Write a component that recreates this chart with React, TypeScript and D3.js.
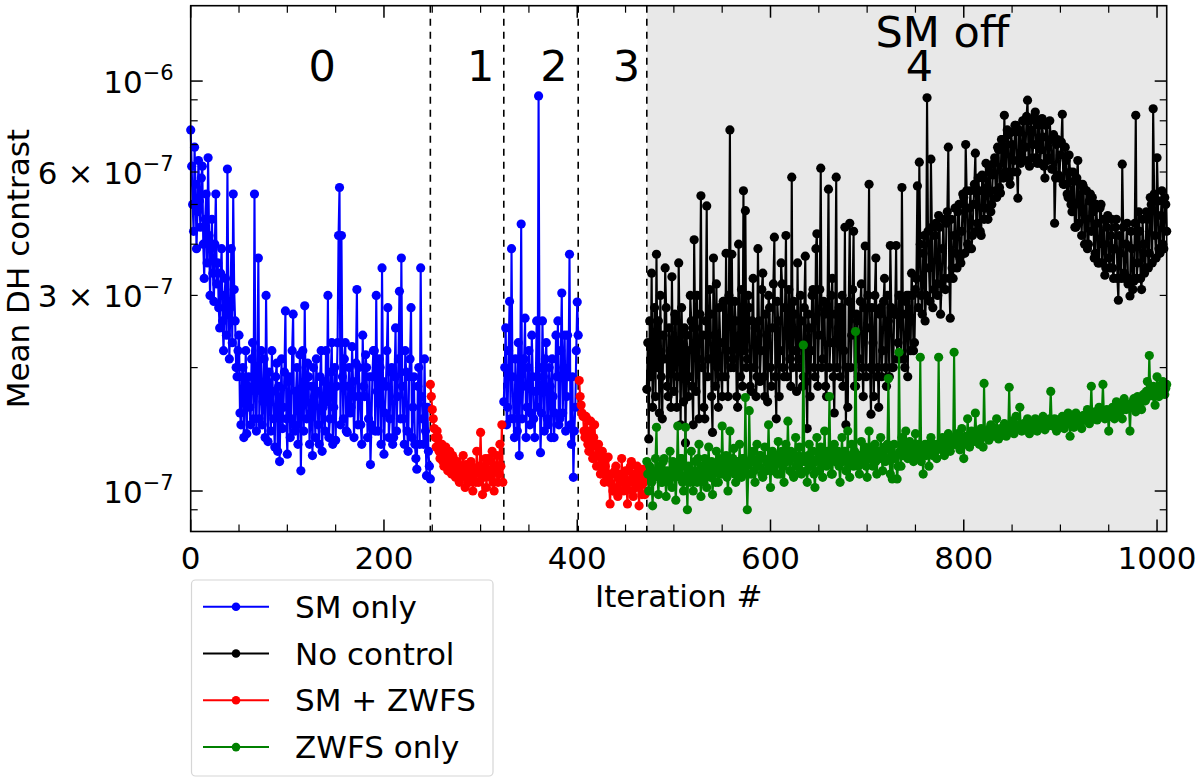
import * as d3 from "d3";

// values are in units of 1e-7, one sample per iteration
const UNIT = 1e-7;

const smOnlyStartA = 0;
const smOnlyA = [
  7.6, 6.2, 5.0, 4.3, 6.9, 5.6, 3.9, 4.8, 6.4, 5.1,
  4.4, 5.8, 6.2, 4.0, 3.3, 4.6, 5.3, 3.6, 6.5, 4.2,
  3.0, 3.9, 4.6, 3.4, 2.9, 4.0, 5.3, 3.2, 3.6, 2.8,
  2.5, 3.4, 3.9, 2.6, 2.2, 3.0, 3.3, 2.4, 6.1, 2.9,
  2.1, 2.8, 3.9, 2.3, 5.3, 3.1, 2.6, 2.0, 1.9, 2.2,
  2.4, 1.55, 1.45, 1.9, 2.0, 1.35, 1.7, 2.2, 1.38, 1.8,
  1.9, 1.6, 1.45, 2.1, 2.3, 1.5, 5.3, 1.75, 1.4, 2.0,
  3.7, 1.5, 1.8, 2.2, 1.45, 1.65, 2.1, 1.35, 3.0, 1.85,
  1.32, 1.95, 1.7, 1.4, 2.2, 1.75, 1.5, 1.28, 1.9, 2.05,
  1.25, 1.8, 1.18, 1.6, 2.1, 1.42, 1.6, 1.95, 2.75, 1.5,
  1.23, 1.85, 1.9, 1.35, 1.5, 2.2, 2.7, 1.45, 1.4, 1.75,
  2.0, 1.3, 1.6, 2.15, 1.12, 1.7, 2.2, 1.4, 2.83, 1.65,
  1.5, 2.05, 1.9, 1.3, 1.55, 1.8, 1.22, 2.0, 1.7, 1.35,
  2.1, 1.75, 1.45, 1.3, 1.9, 2.2, 1.25, 1.6, 1.85, 1.4,
  2.2, 1.65, 3.0, 1.35, 1.5, 1.95, 2.3, 1.3, 1.6, 2.0,
  1.33, 1.8, 2.3, 4.2, 5.5, 1.45, 4.2, 1.9, 1.5, 2.1,
  2.3, 1.4, 1.39, 1.8, 2.0, 1.55, 1.6, 2.25, 1.85, 1.35,
  1.7, 2.05, 3.1, 1.45, 2.0, 1.7, 1.45, 1.3, 2.4, 1.8,
  1.7, 2.15, 2.0, 1.35, 1.5, 1.9, 1.16, 1.45, 1.9, 2.2,
  2.2, 1.4, 3.0, 1.75, 1.4, 2.1, 2.0, 1.3, 3.5, 1.85,
  1.23, 1.55, 1.8, 2.2, 2.8, 1.35, 1.5, 1.95, 2.0, 1.3,
  1.35, 1.9, 2.5, 1.4, 1.7, 2.1, 3.07, 1.5, 3.7, 1.8,
  1.5, 1.3, 2.2, 1.95, 1.4, 1.25, 1.9, 2.1, 2.8, 1.35,
  1.6, 1.9, 1.3, 1.2, 1.13, 1.8, 2.0, 1.3, 3.5, 1.7,
  1.5, 1.3, 2.1, 1.4, 1.09, 1.6, 1.25, 1.15, 1.07,
];

const smZwfsStartB = 248;
const smZwfsB = [
  1.82, 1.7, 1.58, 1.5, 1.42, 1.35, 1.28, 1.4, 1.35, 1.25,
  1.2, 1.3, 1.3, 1.18, 1.15, 1.25, 1.28, 1.15, 1.12, 1.2,
  1.25, 1.15, 1.1, 1.22, 1.2, 1.12, 1.08, 1.15, 1.18, 1.1,
  1.05, 1.12, 1.15, 1.08, 1.22, 1.1, 1.02, 1.16, 1.13, 1.05,
  1.05, 1.12, 1.18, 1.08, 1.0, 1.14, 1.1, 1.05, 1.25, 1.12,
  1.05, 1.15, 1.39, 1.1, 0.98, 1.08, 1.15, 1.2, 1.02, 1.12,
  1.2, 1.1, 1.08, 1.18, 1.25, 1.05, 1.0, 1.12, 1.15, 1.22,
  1.05, 1.1, 1.3, 1.15, 1.45, 1.05,
];

const smOnlyStartC = 324;
const smOnlyC = [
  1.65, 2.0, 2.5, 1.45, 1.6, 2.2, 2.9, 1.5, 3.9, 1.9,
  1.5, 1.35, 2.1, 1.7, 1.4, 2.3, 1.22, 1.85, 4.48, 1.5,
  1.8, 2.1, 2.64, 1.35, 1.6, 2.0, 2.2, 1.45, 1.55, 2.4,
  1.9, 1.5, 1.35, 1.75, 2.6, 1.6, 9.2, 2.0, 1.24, 1.55,
  2.6, 1.9, 1.4, 2.1, 2.3, 1.5, 1.45, 2.0, 1.8, 1.35,
  2.1, 1.7, 1.35, 1.55, 2.4, 1.9, 2.6, 1.45, 1.5, 2.2,
  3.04, 1.55, 2.0, 2.4, 1.4, 1.7, 2.4, 1.9, 3.78, 1.45,
  1.3, 1.9, 1.08, 1.4, 1.6, 2.2, 2.89, 2.4,
];

const smZwfsStartD = 402;
const smZwfsD = [
  1.86, 1.7, 1.62, 1.55, 1.52, 1.4, 1.35, 1.52, 1.5, 1.3,
  1.25, 1.4, 1.48, 1.3, 1.2, 1.35, 1.45, 1.22, 1.15, 1.28,
  1.3, 1.15, 1.1, 1.2, 1.25, 1.12, 1.05, 1.15, 1.2, 1.08,
  1.21, 1.05, 0.93, 1.1, 1.1, 1.0, 1.0, 1.12, 1.15, 1.02,
  0.97, 1.1, 1.08, 1.0, 1.2, 1.05, 1.0, 1.1, 1.12, 1.02,
  0.93, 1.06, 1.05, 1.15, 1.18, 1.0, 0.97, 1.1, 1.08, 1.02,
  1.15, 1.05, 0.92, 1.1, 1.05, 0.98, 1.13, 1.05, 0.98, 1.1,
];

const noControlStart = 472;
const noControl = [
  1.77, 2.3, 1.34, 2.6, 1.9, 3.4, 1.6, 2.1, 2.8, 1.7,
  3.78, 2.0, 2.6, 1.55, 3.0, 1.9, 1.5, 2.4, 2.1, 3.5,
  2.8, 1.8, 1.7, 2.5, 2.2, 1.6, 3.33, 2.0, 1.75, 2.7,
  2.6, 1.6, 1.9, 3.6, 2.3, 1.45, 2.8, 2.1, 1.65, 2.5,
  1.31, 2.4, 2.2, 1.7, 1.9, 3.0, 2.6, 1.8, 1.45, 4.1,
  2.5, 1.75, 3.0, 2.1, 1.5, 2.7, 5.25, 2.0, 2.4, 1.6,
  1.5, 2.6, 4.96, 1.9, 2.1, 3.1, 2.7, 1.7, 1.39, 3.7,
  2.4, 1.8, 3.2, 2.0, 1.6, 2.8, 2.3, 1.9, 1.7, 2.9,
  2.9, 1.9, 3.8, 2.2, 1.7, 3.0, 7.6, 2.0, 3.78, 2.1,
  2.0, 2.9, 2.6, 1.7, 1.6, 4.0, 2.4, 1.9, 3.1, 1.8,
  5.4, 2.2, 4.83, 2.0, 2.1, 3.0, 2.8, 1.8, 1.75, 2.6,
  3.3, 2.0, 2.5, 1.7, 1.9, 3.9, 2.6, 1.85, 2.2, 3.1,
  3.4, 1.9, 1.7, 2.7, 2.4, 1.65, 3.0, 2.8, 2.0, 1.8,
  2.5, 3.2, 4.16, 1.9, 1.5, 2.9, 2.6, 1.7, 2.2, 3.6,
  3.2, 2.0, 1.9, 2.8, 4.2, 1.9, 2.4, 3.1, 2.1, 1.8,
  5.83, 2.0, 2.9, 2.7, 2.2, 1.75, 3.6, 2.1, 2.0, 3.0,
  2.6, 1.8, 1.9, 2.8, 3.74, 1.85, 1.42, 2.7, 2.5, 1.7,
  2.2, 3.0, 3.1, 2.0, 1.9, 3.9, 4.24, 1.8, 2.4, 3.1,
  6.13, 2.0, 2.1, 2.9, 2.7, 1.8, 1.7, 2.8, 5.45, 2.0,
  2.3, 3.0, 3.3, 1.9, 1.55, 2.7, 5.83, 2.0, 2.5, 2.8,
  1.9, 2.8, 3.0, 1.8, 2.2, 4.4, 1.45, 2.0, 1.6, 2.9,
  4.5, 2.0, 2.4, 3.1, 4.3, 1.8, 1.8, 2.7, 2.6, 1.9,
  2.1, 2.9, 3.2, 2.0, 1.7, 2.8, 3.96, 1.9, 2.5, 3.0,
  5.6, 2.0, 1.54, 2.8, 2.3, 1.7, 3.0, 3.7, 1.9, 2.0,
  1.6, 2.7, 2.8, 1.9, 2.2, 2.9, 3.3, 2.0, 1.8, 3.0,
  2.6, 1.9, 3.97, 2.8, 2.0, 2.0, 2.7, 2.7, 3.97, 2.1,
  2.3, 3.0, 3.0, 2.1, 5.5, 2.7, 2.1, 2.0, 2.9, 3.0,
  1.9, 3.0, 2.6, 2.2, 3.4, 3.0, 2.2, 2.3, 3.1, 3.3,
  5.55, 2.8, 6.34, 4.0, 3.0, 2.7, 3.8, 4.2, 2.6, 3.0,
  9.1, 4.3, 3.5, 2.9, 6.45, 4.4, 2.8, 3.1, 4.2, 4.5,
  3.2, 3.0, 4.7, 4.4, 2.7, 3.2, 3.9, 4.6, 3.3, 3.1,
  4.5, 4.8, 6.9, 3.3, 2.64, 4.6, 3.5, 3.3, 4.2, 4.9,
  3.8, 3.5, 4.8, 5.0, 3.7, 3.6, 4.3, 5.3, 5.2, 3.8,
  7.0, 5.4, 4.0, 3.9, 4.9, 5.4, 3.9, 4.2, 5.0, 5.6,
  6.67, 4.3, 4.5, 5.8, 5.4, 4.3, 4.2, 5.9, 5.8, 4.6,
  4.9, 6.3, 5.5, 4.6, 6.2, 6.0, 4.8, 5.0, 5.9, 6.3,
  6.5, 5.4, 5.2, 6.9, 6.8, 5.5, 5.33, 7.2, 7.2, 5.8,
  8.25, 6.0, 6.0, 7.6, 7.4, 5.8, 5.6, 7.5, 7.0, 6.0,
  6.4, 7.8, 7.8, 6.0, 5.18, 7.6, 7.5, 6.3, 6.6, 8.0,
  8.0, 6.4, 6.9, 8.2, 8.98, 6.4, 6.2, 8.0, 7.6, 6.5,
  7.0, 8.2, 8.4, 6.5, 6.3, 8.0, 7.8, 6.3, 6.8, 8.1,
  7.3, 6.2, 5.8, 7.8, 7.9, 6.4, 6.5, 8.0, 7.2, 6.1,
  6.1, 7.4, 4.5, 5.8, 7.0, 7.2, 5.9, 5.8, 6.6, 7.1,
  8.3, 5.6, 5.6, 6.9, 6.4, 5.3, 5.2, 6.6, 6.0, 5.0,
  4.8, 6.0, 5.7, 4.4, 4.4, 5.8, 6.4, 4.5, 5.0, 5.6,
  4.2, 5.6, 5.5, 4.0, 4.6, 5.4, 3.9, 4.0, 5.1, 5.3,
  4.3, 5.2, 4.8, 3.7, 3.8, 5.0, 4.5, 3.6, 3.6, 4.9,
  5.0, 3.6, 4.0, 4.6, 3.36, 3.5, 4.4, 4.7, 3.7, 3.5,
  4.2, 4.6, 3.5, 3.3, 3.9, 4.4, 4.6, 3.3, 2.92, 4.2,
  3.8, 3.3, 6.27, 4.4, 3.4, 3.3, 4.0, 4.5, 3.2, 3.3,
  2.99, 4.3, 3.9, 3.1, 3.25, 4.5, 8.25, 3.3, 3.6, 4.8,
  4.3, 3.3, 3.1, 4.6, 4.0, 3.4, 3.5, 4.8, 4.6, 3.5,
  3.8, 5.2, 5.0, 3.6, 8.56, 5.3, 4.2, 3.7, 6.5, 5.1,
  3.9, 3.8, 4.7, 5.4, 4.0, 3.9, 5.2, 5.0, 4.3,
];

const zwfsOnlyStart = 472;
const zwfsOnly = [
  1.18, 1.1, 1.0, 1.15, 1.12, 1.05, 0.92, 1.1, 1.08, 1.2,
  1.43, 1.1, 0.98, 1.12, 1.15, 1.05, 1.05, 1.18, 1.2, 1.08,
  0.97, 1.12, 1.1, 1.05, 1.25, 1.1, 1.02, 1.18, 1.15, 1.08,
  0.95, 1.1, 1.44, 1.12, 1.08, 1.2, 1.2, 1.05, 1.0, 1.15,
  1.43, 1.08, 0.9, 1.15, 1.12, 1.05, 1.25, 1.1, 1.0, 1.12,
  1.18, 1.08, 1.05, 1.2, 1.3, 1.1, 0.97, 1.15, 1.13, 1.05,
  1.2, 1.1, 1.02, 1.15, 1.28, 1.12, 1.08, 1.18, 0.98, 1.1,
  1.15, 1.05, 1.25, 1.12, 1.05, 1.2, 1.18, 1.1, 1.44, 1.15,
  1.1, 1.18, 1.22, 1.08, 1.0, 1.15, 1.4, 1.12, 1.12, 1.2,
  1.27, 1.1, 1.05, 1.15, 1.18, 1.1, 1.3, 1.12, 1.08, 1.2,
  1.2, 1.12, 1.69, 1.15, 0.9, 1.1, 1.57, 1.18, 1.1, 1.2,
  1.25, 1.12, 1.05, 1.18, 1.3, 1.15, 1.15, 1.22, 1.22, 1.1,
  1.08, 1.2, 1.28, 1.12, 1.12, 1.18, 1.45, 1.15, 1.02, 1.2,
  1.25, 1.12, 1.15, 1.22, 1.2, 1.1, 1.32, 1.18, 1.1, 1.22,
  1.25, 1.15, 1.05, 1.2, 1.3, 1.18, 1.48, 1.2, 1.12, 1.25,
  1.22, 1.1, 1.08, 1.2, 1.35, 1.15, 1.15, 1.22, 1.28, 1.12,
  1.1, 1.2, 2.27, 1.18, 1.2, 1.12, 1.05, 1.22, 1.3, 1.15,
  1.15, 1.25, 1.25, 1.1, 1.02, 1.18, 1.35, 1.2, 1.12, 1.25,
  1.28, 1.15, 1.08, 1.22, 1.4, 1.2, 1.15, 1.25, 1.22, 1.7,
  1.18, 1.1, 1.1, 1.25, 1.3, 1.18, 1.18, 1.22, 1.25, 1.15,
  1.05, 1.2, 1.35, 1.18, 1.2, 1.25, 1.12, 1.2, 1.4, 1.15,
  1.08, 1.22, 1.3, 1.18, 1.15, 1.25, 2.45, 1.2, 1.22, 1.15,
  1.1, 1.22, 1.32, 1.2, 1.18, 1.25, 1.28, 1.15, 1.08, 1.22,
  1.4, 1.2, 1.2, 1.28, 1.15, 1.22, 1.3, 1.18, 1.1, 1.25,
  1.25, 1.2, 1.35, 1.22, 1.12, 1.25, 1.28, 1.18, 1.2, 1.3,
  1.88, 1.2, 1.1, 1.25, 1.07, 1.22, 1.3, 1.2, 1.22, 1.07,
  1.15, 2.18, 1.25, 1.15, 1.35, 1.22, 1.25, 1.3, 1.4, 1.22,
  1.2, 1.28, 1.32, 1.22, 1.28, 1.3, 1.18, 1.25, 1.38, 1.25,
  1.22, 1.3, 1.28, 2.12, 1.18, 1.25, 1.1, 1.28, 1.3, 1.22,
  1.25, 1.3, 1.15, 1.28, 1.35, 1.25, 1.22, 1.3, 1.28, 1.25,
  1.2, 1.3, 2.12, 1.28, 1.28, 1.32, 1.35, 1.25, 1.22, 1.3,
  1.32, 1.28, 1.38, 1.3, 1.25, 1.35, 1.33, 1.3, 2.18, 1.3,
  1.3, 1.35, 1.38, 1.3, 1.26, 1.35, 1.42, 1.32, 1.2, 1.35,
  1.36, 1.3, 1.5, 1.35, 1.28, 1.38, 1.4, 1.33, 1.32, 1.38,
  1.55, 1.38, 1.36, 1.33, 1.3, 1.4, 1.42, 1.35, 1.28, 1.83,
  1.36, 1.4, 1.4, 1.35, 1.33, 1.42, 1.45, 1.38, 1.42, 1.36,
  1.38, 1.42, 1.5, 1.4, 1.34, 1.4, 1.42, 1.38, 1.37, 1.43,
  1.46, 1.4, 1.36, 1.42, 1.4, 1.79, 1.4, 1.44, 1.48, 1.42,
  1.38, 1.44, 1.52, 1.42, 1.42, 1.45, 1.6, 1.43, 1.4, 1.45,
  1.46, 1.42, 1.43, 1.47, 1.5, 1.44, 1.38, 1.45, 1.47, 1.43,
  1.43, 1.47, 1.5, 1.44, 1.4, 1.46, 1.47, 1.43, 1.44, 1.48,
  1.52, 1.45, 1.41, 1.47, 1.49, 1.44, 1.46, 1.5, 1.75, 1.46,
  1.44, 1.48, 1.5, 1.45, 1.4, 1.47, 1.49, 1.46, 1.46, 1.5,
  1.52, 1.47, 1.42, 1.48, 1.5, 1.46, 1.55, 1.48, 1.36, 1.47,
  1.48, 1.5, 1.43, 1.48, 1.55, 1.5, 1.46, 1.52, 1.5, 1.47,
  1.42, 1.5, 1.53, 1.49, 1.49, 1.52, 1.58, 1.5, 1.46, 1.53,
  1.8, 1.52, 1.5, 1.55, 1.56, 1.52, 1.49, 1.55, 1.6, 1.54,
  1.53, 1.57, 1.82, 1.55, 1.5, 1.56, 1.58, 1.54, 1.4, 1.55,
  1.52, 1.58, 1.6, 1.56, 1.5, 1.6, 1.65, 1.58, 1.55, 1.6,
  1.62, 1.57, 1.5, 1.62, 1.68, 1.6, 1.58, 1.63, 1.62, 1.6,
  1.4, 1.62, 1.6, 1.65, 1.68, 1.62, 1.56, 1.66, 1.7, 1.64,
  1.62, 1.68, 1.58, 1.7, 1.72, 1.66, 1.66, 1.75, 1.85, 1.7,
  2.14, 1.75, 1.72, 1.78, 1.8, 1.7, 1.62, 1.75, 1.9, 1.78,
  1.7, 1.8, 1.78, 1.74, 1.85, 1.8, 1.72, 1.78, 1.82,
];

// phase boundaries (dashed lines) and the start of the "SM off" shading
const phaseBounds = [248, 324, 401, 472];
const smOffStart = 472;
const phaseLabels = ["0", "1", "2", "3", "4"];
const phaseLabelIter = [136, 300, 376, 451, 754];

const xMajor = [0, 200, 400, 600, 800, 1000];
const xMinor = [50, 100, 150, 250, 300, 350, 450, 500, 550, 650, 700, 750, 850, 900, 950];
const yMajor = [1e-7, 1e-6];
const yMinor = [9e-8, 2e-7, 3e-7, 4e-7, 5e-7, 6e-7, 7e-7, 8e-7, 9e-7];
const yMinorLabelled = [3e-7, 6e-7];

const legendNames = ["SM only", "No control", "SM + ZWFS", "ZWFS only"];
const legendColors = ["#0000ff", "#000000", "#ff0000", "#008000"];

const FONT = "DejaVu Sans, sans-serif";
const FS = 31;

export default function App() {
  const left = 190.7, right = 1166.7, top = 5.7, bottom = 531.5;

  const x = d3.scaleLinear().domain([0, 1010]).range([left, right]);
  const y = d3.scaleLog().domain([7.966e-8, 1.527e-6]).range([bottom, top]);

  // plotting order as in the figure: blue, black, red, green
  const series = [
    { start: smOnlyStartA, values: smOnlyA, color: legendColors[0] },
    { start: smOnlyStartC, values: smOnlyC, color: legendColors[0] },
    { start: noControlStart, values: noControl, color: legendColors[1] },
    { start: smZwfsStartB, values: smZwfsB, color: legendColors[2] },
    { start: smZwfsStartD, values: smZwfsD, color: legendColors[2] },
    { start: zwfsOnlyStart, values: zwfsOnly, color: legendColors[3] },
  ];

  const yLabel = (v: number, minor: boolean) => {
    const exp = Math.floor(Math.log10(v) + 1e-9);
    const mant = Math.round(v / Math.pow(10, exp));
    return (
      <text x={left - 17} y={y(v) + 12} textAnchor="end" fontSize={FS} fontFamily={FONT}>
        {minor ? `${mant} × 10` : "10"}
        <tspan dy={-13} fontSize={21}>{"\u2212" + Math.abs(exp)}</tspan>
      </text>
    );
  };

  const legX = 191.5, legY = 580, rowH = 46.8;

  return (
    <svg width={1200} height={783} style={{ position: "absolute", left: 0, top: 0 }}>
      <rect width={1200} height={783} fill="#fff" />
      <rect x={x(smOffStart)} y={top} width={right - x(smOffStart)} height={bottom - top} fill="#e8e8e8" />
      {phaseBounds.map((b) => (
        <line key={b} x1={x(b)} x2={x(b)} y1={top} y2={bottom} stroke="#000" strokeWidth={1.6} strokeDasharray="7,6" />
      ))}

      {series.map((s, si) => {
        const line = d3
          .line<number>()
          .x((_, i) => x(s.start + i))
          .y((d) => y(d * UNIT));
        return (
          <g key={si}>
            <path d={line(s.values) ?? ""} fill="none" stroke={s.color} strokeWidth={2.1} />
            {s.values.map((v, i) => (
              <circle key={i} cx={x(s.start + i)} cy={y(v * UNIT)} r={4.6} fill={s.color} />
            ))}
          </g>
        );
      })}

      {phaseLabels.map((t, i) => (
        <text key={t} x={x(phaseLabelIter[i])} y={y(1.0e-6)} textAnchor="middle" fontSize={43} fontFamily={FONT}>
          {t}
        </text>
      ))}
      <text x={x(778)} y={y(1.2e-6) - 1.5} textAnchor="middle" fontSize={43} fontFamily={FONT}>
        SM off
      </text>

      {/* ticks, inward on all four sides */}
      {xMajor.map((t) => (
        <g key={"xM" + t}>
          <line x1={x(t)} x2={x(t)} y1={bottom} y2={bottom - 12} stroke="#000" strokeWidth={1.5} />
          <line x1={x(t)} x2={x(t)} y1={top} y2={top + 12} stroke="#000" strokeWidth={1.5} />
          <text x={x(t)} y={bottom + 37} textAnchor="middle" fontSize={FS} fontFamily={FONT}>
            {t}
          </text>
        </g>
      ))}
      {xMinor.map((t) => (
        <g key={"xm" + t}>
          <line x1={x(t)} x2={x(t)} y1={bottom} y2={bottom - 7} stroke="#000" strokeWidth={1.2} />
          <line x1={x(t)} x2={x(t)} y1={top} y2={top + 7} stroke="#000" strokeWidth={1.2} />
        </g>
      ))}
      {yMajor.map((t) => (
        <g key={"yM" + t}>
          <line x1={left} x2={left + 12} y1={y(t)} y2={y(t)} stroke="#000" strokeWidth={1.5} />
          <line x1={right} x2={right - 12} y1={y(t)} y2={y(t)} stroke="#000" strokeWidth={1.5} />
          {yLabel(t, false)}
        </g>
      ))}
      {yMinor.map((t) => (
        <g key={"ym" + t}>
          <line x1={left} x2={left + 7} y1={y(t)} y2={y(t)} stroke="#000" strokeWidth={1.2} />
          <line x1={right} x2={right - 7} y1={y(t)} y2={y(t)} stroke="#000" strokeWidth={1.2} />
          {yMinorLabelled.includes(t) ? yLabel(t, true) : null}
        </g>
      ))}

      <rect x={left} y={top} width={right - left} height={bottom - top} fill="none" stroke="#000" strokeWidth={1.6} />

      <text x={(left + right) / 2} y={607} textAnchor="middle" fontSize={FS} fontFamily={FONT}>
        Iteration #
      </text>
      <text
        transform={`translate(29,${(top + bottom) / 2}) rotate(-90)`}
        textAnchor="middle"
        fontSize={FS}
        fontFamily={FONT}
      >
        Mean DH contrast
      </text>

      <rect x={legX} y={legY} width={301.5} height={196} rx={4} fill="#fff" stroke="#d6d6d6" strokeWidth={1.2} />
      {legendNames.map((n, i) => {
        const cy = legY + 26.7 + i * rowH;
        return (
          <g key={n}>
            <line x1={203} x2={269} y1={cy} y2={cy} stroke={legendColors[i]} strokeWidth={2} />
            <circle cx={236} cy={cy} r={4.3} fill={legendColors[i]} />
            <text x={295} y={cy + 11} fontSize={FS} fontFamily={FONT}>
              {n}
            </text>
          </g>
        );
      })}
    </svg>
  );
}
